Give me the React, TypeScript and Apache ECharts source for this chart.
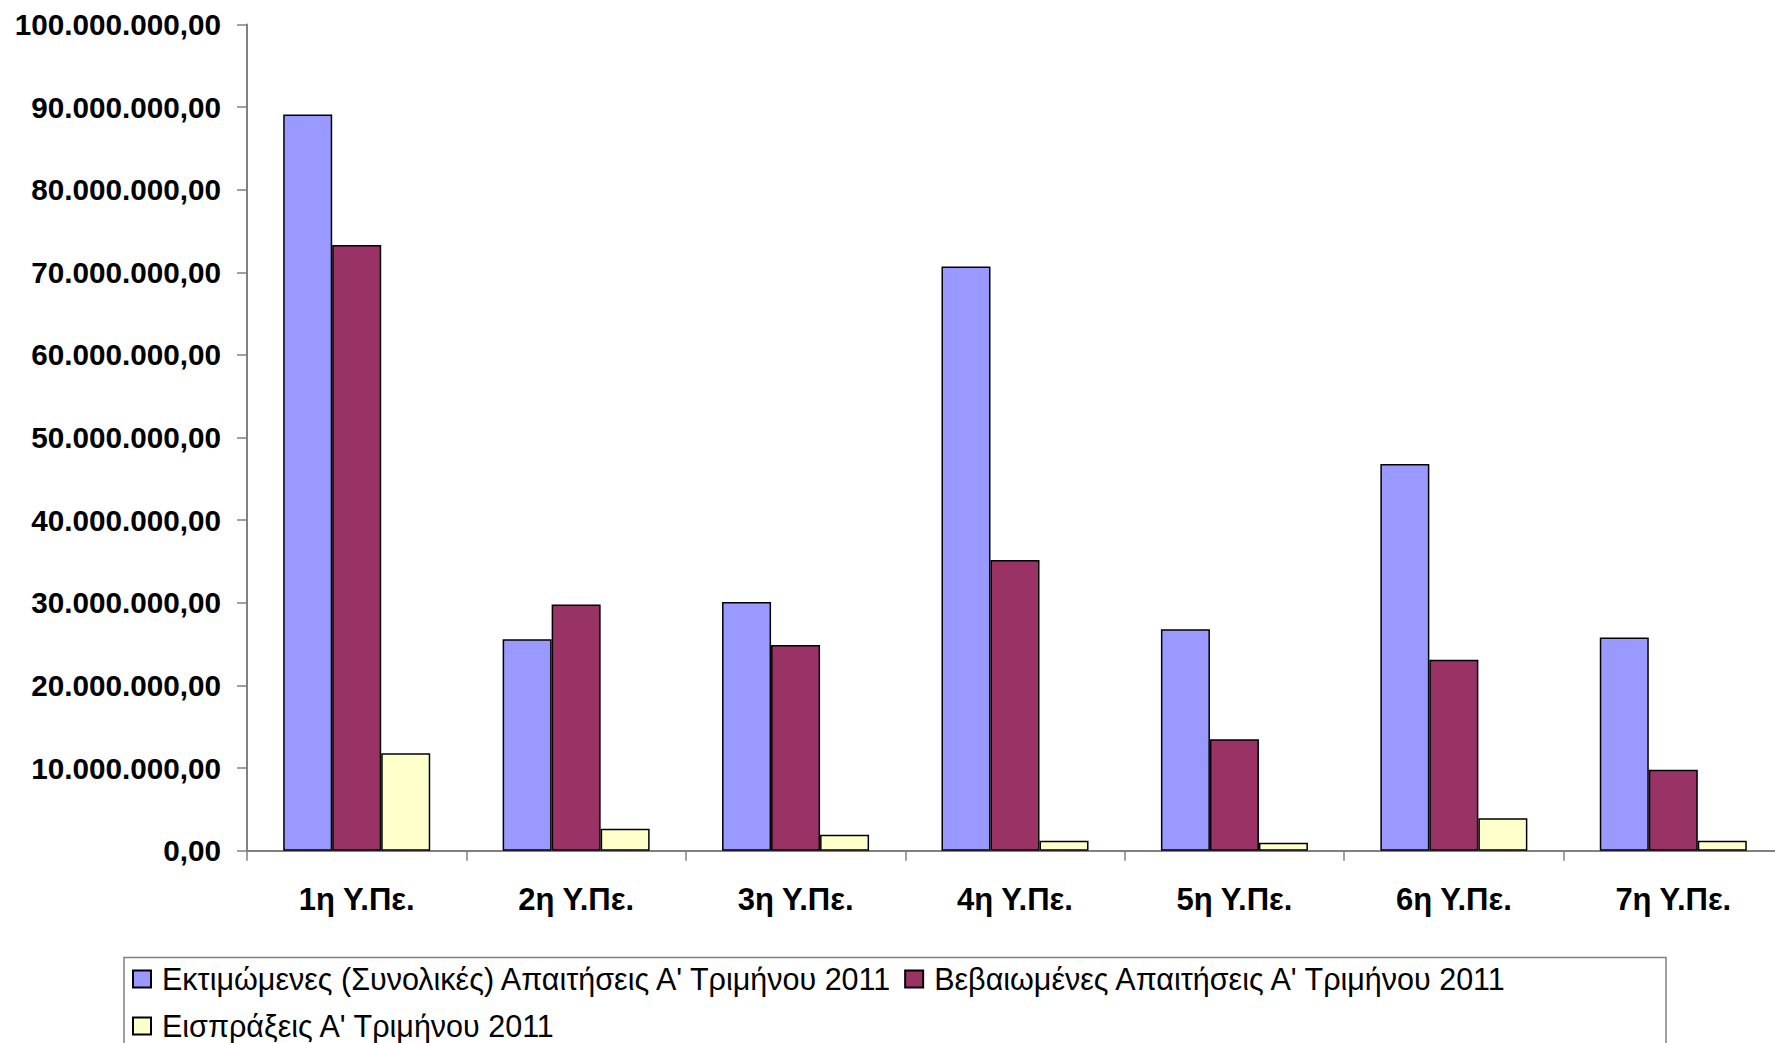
import React, { useEffect, useRef } from "react";
import * as echarts from "echarts";

const categories = ["1η Υ.Πε.", "2η Υ.Πε.", "3η Υ.Πε.", "4η Υ.Πε.", "5η Υ.Πε.", "6η Υ.Πε.", "7η Υ.Πε."];
const seriesNames = [
  "Εκτιμώμενες (Συνολικές) Απαιτήσεις Α' Τριμήνου 2011",
  "Βεβαιωμένες Απαιτήσεις Α' Τριμήνου 2011",
  "Εισπράξεις Α' Τριμήνου 2011",
];
const estimated = [89100000, 25600000, 30100000, 70700000, 26800000, 46800000, 25800000];
const certified = [73300000, 29800000, 24900000, 35200000, 13500000, 23100000, 9800000];
const collected = [11800000, 2660000, 1940000, 1210000, 970000, 3920000, 1210000];
const colors = ["#9999FF", "#993366", "#FFFFCC"];

const FONT = "'Liberation Sans', Arial, sans-serif";

function fmt(v: number): string {
  const s = Math.round(v).toString();
  const parts: string[] = [];
  for (let i = s.length; i > 0; i -= 3) {
    parts.unshift(s.substring(Math.max(0, i - 3), i));
  }
  return parts.join(".") + ",00";
}

export default function App() {
  const ref = useRef<HTMLDivElement>(null);
  useEffect(() => {
    if (!ref.current) return;
    const chart = echarts.init(ref.current, undefined, { renderer: "svg" });
    const data = [estimated, certified, collected];
    chart.setOption({
      animation: false,
      backgroundColor: "#ffffff",
      grid: {
        left: 247,
        top: 24.5,
        width: 1536,
        height: 826.2,
        containLabel: false,
        outerBoundsMode: "none",
      },
      xAxis: {
        type: "category",
        data: categories,
        axisLine: { lineStyle: { color: "#808080", width: 2 } },
        axisTick: { show: true, length: 10, lineStyle: { color: "#808080", width: 1.5 } },
        axisLabel: {
          margin: 33,
          color: "#000",
          fontFamily: FONT,
          fontWeight: "bold",
          fontSize: 31,
        },
        splitLine: { show: false },
      },
      yAxis: {
        type: "value",
        min: 0,
        max: 100000000,
        interval: 10000000,
        axisLine: { show: true, lineStyle: { color: "#808080", width: 2 } },
        axisTick: { show: true, length: 10, lineStyle: { color: "#808080", width: 1.5 } },
        axisLabel: {
          margin: 26,
          color: "#000",
          fontFamily: FONT,
          fontWeight: "bold",
          fontSize: 29.7,
          formatter: (v: number) => fmt(v),
        },
        splitLine: { show: false },
      },
      legend: {
        left: 132,
        top: 960.5,
        width: 1450,
        padding: 0,
        itemGap: 10,
        itemWidth: 18,
        itemHeight: 17,
        icon: "rect",
        textStyle: {
          fontFamily: FONT,
          fontSize: 30.5,
          color: "#000",
          lineHeight: 37,
          padding: [0, 0, 0, 6],
        },
        data: seriesNames,
      },
      graphic: [
        {
          type: "rect",
          left: 121.5,
          top: 955,
          shape: { width: 1542, height: 120 },
          style: { fill: "none", stroke: "#808080", lineWidth: 1.5 },
          z: -1,
        },
      ],
      series: seriesNames.map((name, i) => ({
        name,
        type: "bar",
        data: data[i],
        barGap: "0%",
        barCategoryGap: "33%",
        itemStyle: { color: colors[i], borderColor: "#000", borderWidth: 1.5 },
      })),
    });
    return () => chart.dispose();
  }, []);
  return (
    <div
      ref={ref}
      style={{ position: "fixed", left: 0, top: 0, width: 1775, height: 1043 }}
    />
  );
}
